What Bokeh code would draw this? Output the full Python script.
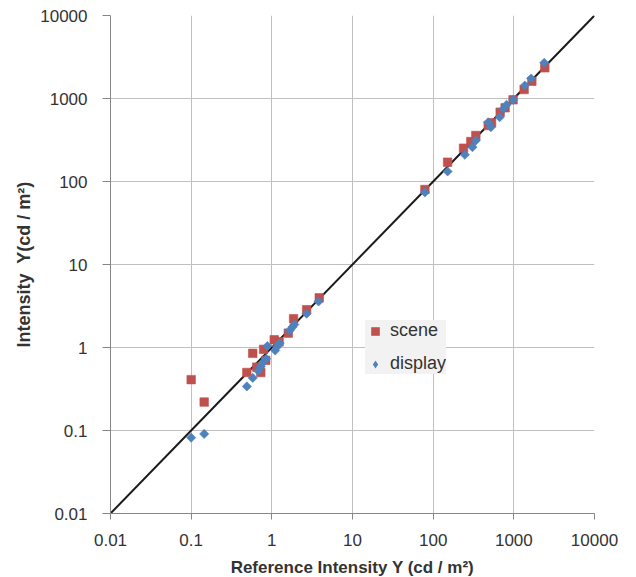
import math
from bokeh.plotting import figure
from bokeh.models import FixedTicker, CustomJSTickFormatter, Legend, LegendItem, ColumnDataSource
from bokeh.embed import file_html
from bokeh.resources import INLINE

# ---- data ----
scene_x = [0.1, 0.145, 0.49, 0.58, 0.65, 0.73, 0.79, 0.84, 1.07, 1.23, 1.6, 1.86, 2.7, 3.87,
           79, 151, 238, 293, 338, 481, 530, 677, 780, 979, 1342, 1672, 2422]
scene_y = [0.41, 0.22, 0.50, 0.85, 0.58, 0.50, 0.95, 0.70, 1.24, 1.17, 1.49, 2.22, 2.85, 3.97,
           80, 171, 252, 303, 358, 473, 510, 684, 773, 965, 1283, 1614, 2343]

display_x = [0.1, 0.145, 0.49, 0.58, 0.68, 0.73, 0.79, 0.85, 0.88, 1.1, 1.16, 1.25, 1.66, 1.8, 1.9,
             2.7, 3.8, 79, 151, 247, 307, 338, 481, 519, 667, 745, 813, 979, 1368, 1640, 2380]
display_y = [0.082, 0.091, 0.34, 0.43, 0.52, 0.59, 0.67, 0.73, 1.04, 0.92, 1.02, 1.13, 1.6, 1.76, 1.89,
             2.55, 3.58, 74, 132, 210, 259, 312, 517, 451, 596, 751, 840, 965, 1435, 1742, 2690]

identity_x = [0.01, 10000]
identity_y = [0.01, 10000]

tick_values = [0.01, 0.1, 1, 10, 100, 1000, 10000]
tick_labels = ["0.01", "0.1", "1", "10", "100", "1000", "10000"]

x_title = "Reference Intensity Y (cd / m\u00b2)"
y_title = "Intensity\u00a0 Y(cd / m\u00b2)"
series_names = ["scene", "display"]

FONT = "Liberation Sans"
TXT = "#333333"
AX = "#868686"
GRID = "#c0c0c0"
RED = "#C0504D"
BLUE = "#4F81BD"

p = figure(x_axis_type="log", y_axis_type="log",
           x_range=(tick_values[0], tick_values[-1]), y_range=(tick_values[0], tick_values[-1]),
           frame_width=484, frame_height=498,
           min_border_left=110, min_border_right=36, min_border_top=15, min_border_bottom=62,
           output_backend="svg", toolbar_location=None)
p.background_fill_color = "white"
p.border_fill_color = "white"
p.outline_line_color = None

fmt = CustomJSTickFormatter(args=dict(vals=tick_values, labs=tick_labels), code="""
const i = vals.findIndex(v => Math.abs(Math.log10(v) - Math.log10(tick)) < 1e-6);
return i >= 0 ? labs[i] : '';
""")

for ax in (p.xaxis[0], p.yaxis[0]):
    ax.ticker = FixedTicker(ticks=tick_values)
    ax.formatter = fmt
    ax.axis_line_color = AX
    ax.major_tick_line_color = AX
    ax.minor_tick_line_color = None
    ax.major_tick_in = 0
    ax.major_label_text_font = FONT
    ax.major_label_text_font_size = "17px"
    ax.major_label_text_color = TXT
    ax.axis_label_text_font = FONT
    ax.axis_label_text_font_style = "bold"
    ax.axis_label_text_color = TXT

p.xaxis.axis_label_text_font_size = "17px"
p.yaxis.axis_label_text_font_size = "18px"
p.xaxis.major_tick_out = 6
p.xaxis.major_label_standoff = 14
p.xaxis.axis_label_standoff = 9
p.yaxis.major_tick_out = 8
p.yaxis.major_label_standoff = 15
p.yaxis.axis_label_standoff = 3
p.xaxis.axis_label = x_title
p.yaxis.axis_label = y_title

for g in (p.xgrid[0], p.ygrid[0]):
    g.ticker = FixedTicker(ticks=tick_values)
    g.grid_line_color = GRID
    g.grid_line_width = 1

p.line(identity_x, identity_y, line_color="#1a1a1a", line_width=2)

src_s = ColumnDataSource(dict(x=scene_x, y=scene_y))
src_d = ColumnDataSource(dict(x=display_x, y=display_y))
r_s = p.scatter("x", "y", source=src_s, marker="square", size=8.5,
                fill_color=RED, line_color=RED, line_alpha=0.6)
# diamond glyph (used for the legend symbol); fully covered by the rotated squares below
r_d_leg = p.scatter("x", "y", source=src_d, marker="diamond", size=8,
                    fill_color=BLUE, line_color=None)
r_d = p.scatter("x", "y", source=src_d, marker="square", size=6.5, angle=math.pi / 4,
                fill_color=BLUE, line_color=BLUE, line_alpha=0.6)

legend = Legend(items=[LegendItem(label=series_names[0], renderers=[r_s]),
                       LegendItem(label=series_names[1], renderers=[r_d_leg])],
                location=(255, 139))
legend.background_fill_color = "#f2f2f2"
legend.background_fill_alpha = 1.0
legend.border_line_color = None
legend.label_text_font = FONT
legend.label_text_font_size = "18px"
legend.label_text_color = TXT
legend.padding = 6
legend.margin = 0
legend.spacing = 12
legend.label_height = 20
legend.glyph_height = 20
legend.glyph_width = 20
legend.label_standoff = 5
p.add_layout(legend, "center")

open("out.html", "w").write(file_html(p, INLINE))
